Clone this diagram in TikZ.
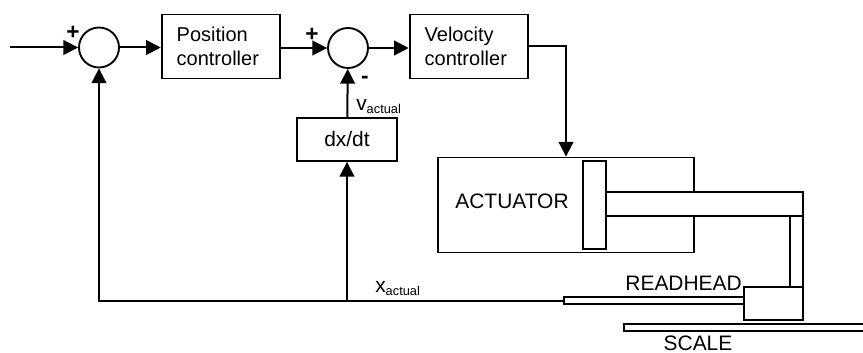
\documentclass[tikz,border=0pt]{standalone}
\usepackage{fontspec}
\setmainfont{Liberation Sans}
\usetikzlibrary{arrows.meta,positioning}
\newcommand{\actualsub}{\raisebox{-2.5pt}{\fontsize{9.6}{10}\selectfont actual}}
\tikzset{
	block/.style={draw,line width=1.4pt,minimum width=118*.75pt,minimum height=64*.75pt,inner ysep=0pt,inner xsep=11.25pt,text width=66.5pt,align=left,font=\fontsize{15}{18}\selectfont},
	sum/.style={draw,line width=1.4pt,circle,minimum size=40*.75pt,inner sep=0pt},
	part/.style={draw,line width=1.4pt,fill=white,inner sep=0pt},
	sig/.style={line width=1.5pt,-{Triangle[length=11pt,width=11pt]}},
	mark sign/.style={font=\fontsize{17}{18}\selectfont\bfseries}
}
\begin{document}
\begin{tikzpicture}[x=.75pt,y=-.75pt,font=\fontsize{15.7}{18}\selectfont]
	\useasboundingbox (0,0) rectangle (863,353);
	% control loop
	\coordinate (in) at (10,47.5);
	\node[sum] (sumx) at (99,47.5) {};
	\node[block] (pos) at (221,46.5) {Position\\controller};
	\node[sum] (sumv) at (348,48) {};
	\node[block] (vel) at (469,46.5) {Velocity\\controller};
	\node[part,minimum width=100*.75pt,minimum height=43*.75pt] (diff) at (347,139.5) {dx/dt};
	% actuator
	\node[part,minimum width=256*.75pt,minimum height=95*.75pt] (act) at (566,205) {};
	\node at (512,201.5) {ACTUATOR};
	\node[part,minimum width=197*.75pt,minimum height=24*.75pt] (rod) at (704.5,204) {};
	\node[part,minimum width=23*.75pt,minimum height=88*.75pt] (piston) at (594.5,205) {};
	\node[part,minimum width=13*.75pt,minimum height=71*.75pt] (arm) at (796.5,251.5) {};
	% readhead and scale
	\node[part,minimum width=180*.75pt,minimum height=7*.75pt] (bar) at (654,300.5) {};
	\node[part,minimum width=59*.75pt,minimum height=33*.75pt] (head) at (773.5,303.5) {};
	\draw[line width=1.4pt] (863,324) -- (624,324) -- (624,331) -- (863,331);
	\node[anchor=east,inner sep=0pt] (headlabel) at (742,283) {READHEAD};
	\node[inner sep=0pt] (scalelabel) at (698,343) {SCALE};
	% signals
	\coordinate (fb) at (99,300.5);
	\coordinate (tap) at (347,300.5);
	\draw[sig] (in) -- (sumx);
	\draw[sig] (sumx) -- (sumx -| pos.west);
	\draw[sig] (pos.east |- sumv) -- (sumv);
	\draw[sig] (sumv) -- (sumv -| vel.west);
	\draw[sig] (bar.west) -- (fb) -- (sumx);
	\draw[sig] (tap) -- (diff);
	\draw[sig] (diff) -- (sumv);
	\draw[sig] (vel.east) -| (act.north);
	\node[mark sign] (plusx) at (73,33) {+};
	\node[mark sign] (plusv) at (312,35) {+};
	\node[mark sign] (minus) at (365,80) {-};
	\node[anchor=base west,inner sep=0pt] (vact) at (356,110) {v\actualsub};
	\node[anchor=base west,inner sep=0pt] (xact) at (375,292) {x\actualsub};
\end{tikzpicture}
\end{document}
